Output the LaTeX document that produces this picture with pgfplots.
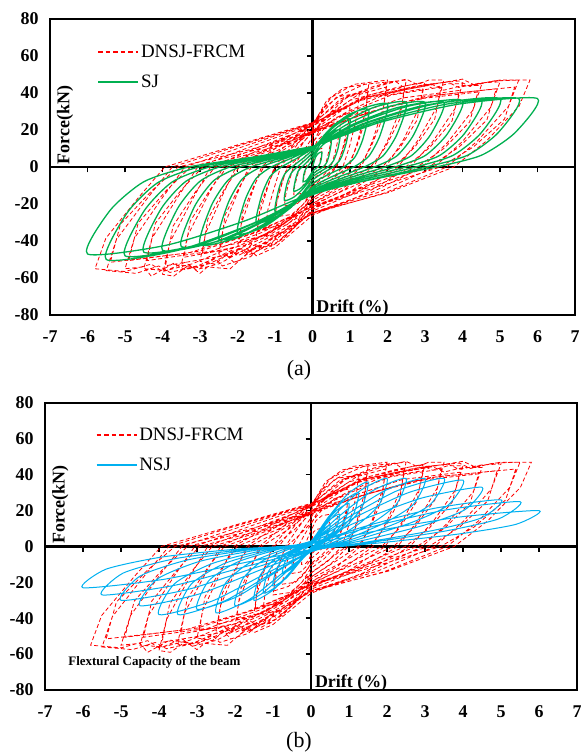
\documentclass[border=0pt]{standalone}
\usepackage{fontspec}
\setmainfont{Liberation Serif}
\usepackage{pgfplots}
\pgfplotsset{compat=1.18}
\usepackage{pgfplotstable}
\definecolor{sjgreen}{RGB}{0,176,80}
\definecolor{nsjblue}{RGB}{0,176,240}

\pgfplotstableread{
x y
0 0
0.06 8
0.14 9.5
0.25 10
0.24 7
0.2 3
0.16 0
0.09 -2.5
0 -4.5
-0.06 -7.5
-0.14 -9.5
-0.25 -10
-0.24 -7
-0.2 -3
-0.17 0
-0.09 4.5
0 9
0.13 14.4
0.28 17.1
0.5 18
0.48 12.6
0.4 5.4
0.33 0
0.18 -3.75
0 -6.75
-0.13 -11.25
-0.28 -14.25
-0.5 -15
-0.48 -10.5
-0.4 -4.5
-0.34 0
-0.18 6.25
0 12.5
0.19 20
0.41 23.75
0.75 25
0.71 17.5
0.6 7.5
0.49 0
0.26 -5.25
0 -9.45
-0.19 -15.75
-0.41 -19.95
-0.75 -21
-0.71 -14.7
-0.6 -6.3
-0.51 0
-0.26 8
0 16
0.25 25.6
0.55 30.4
1 32
0.95 22.4
0.8 9.6
0.65 0
0.35 -6.75
0 -12.15
-0.25 -20.25
-0.55 -25.65
-1 -27
-0.95 -18.9
-0.8 -8.1
-0.68 0
-0.35 10
0 20
0.31 32
0.69 38
1.25 40
1.19 28
1 12
0.81 0
0.44 -8.25
0 -14.85
-0.31 -24.75
-0.69 -31.35
-1.25 -33
-1.19 -23.1
-1 -9.9
-0.85 0
-0.44 11.25
0 22.5
0.38 36
0.83 42.75
1.5 45
1.43 31.5
1.2 13.5
0.98 0
0.53 -9.5
0 -17.1
-0.38 -28.5
-0.83 -36.1
-1.5 -38
-1.43 -26.6
-1.2 -11.4
-1.02 0
-0.53 11.75
0 23.5
0.5 37.6
1.1 44.65
2 47
1.9 32.9
1.6 14.1
1.3 0
0.7 -11
0 -19.8
-0.5 -33
-0.8 -38
-0.9 -35.5
-1.1 -41.8
-1.4 -44.5
-1.6 -41.5
-1.8 -45
-2 -44
-1.9 -30.8
-1.6 -13.2
-1.36 0
-0.7 11.75
0 23.5
0.63 37.6
1.38 44.65
2.5 47
2.38 32.9
2 14.1
1.63 0
0.88 -11.75
0 -21.15
-0.63 -35.25
-0.9 -40
-1.05 -37.5
-1.38 -44.65
-1.7 -47.5
-1.9 -44
-2.2 -48.5
-2.5 -47
-2.38 -32.9
-2 -14.1
-1.7 0
-0.88 11.5
0 23
0.75 36.8
1.65 43.7
2.2 46.5
2.4 43.5
3 46
2.85 32.2
2.4 13.8
1.95 0
1.05 -12.75
0 -22.95
-0.75 -38.25
-1.1 -43
-1.25 -40.5
-1.65 -48.45
-2.1 -51.5
-2.3 -47.5
-2.6 -52.5
-3 -51
-2.85 -35.7
-2.4 -15.3
-2.04 0
-1.05 11.75
0 23.5
0.88 37.6
1.93 44.65
2.5 47.5
2.8 44.5
3.1 47
3.5 47
3.33 32.9
2.8 14.1
2.28 0
1.23 -13.25
0 -23.85
-0.88 -39.75
-1.3 -45
-1.45 -42
-1.93 -50.35
-2.4 -53.5
-2.6 -49.5
-3 -54.5
-3.5 -53
-3.33 -37.1
-2.8 -15.9
-2.38 0
-1.23 11.25
0 22.5
1 36
2.2 42.75
2.9 45.5
3.2 42.5
3.6 45
4 45
3.8 31.5
3.2 13.5
2.6 0
1.4 -14.5
0 -26.1
-1 -43.5
-1.5 -48
-1.65 -45
-2.2 -55.1
-2.8 -54
-3 -57.5
-3.3 -53
-3.7 -59
-4 -58
-3.8 -40.6
-3.2 -17.4
-2.72 0
-1.4 11
0 22
1.13 35.2
2.48 41.8
3.2 44.5
3.5 41.5
4 44
4.5 44
4.28 30.8
3.6 13.2
2.93 0
1.58 -13.75
0 -24.75
-1.13 -41.25
-1.6 -47
-1.75 -44
-2.48 -52.25
-3.1 -55.5
-3.4 -51.5
-3.9 -56
-4.5 -55
-4.28 -38.5
-3.6 -16.5
-3.06 0
-1.58 11.5
0 23
1.25 36.8
2.75 43.7
3.6 46
3.9 43
4.5 45.5
5 46
4.75 32.2
4 13.8
3.25 0
1.75 -13.75
0 -24.75
-1.25 -41.25
-1.8 -47
-1.95 -44.5
-2.75 -52.25
-3.4 -55.5
-3.7 -52
-4.3 -59
-4.5 -54
-5 -55
-4.75 -38.5
-4 -16.5
-3.4 0
-1.75 11.75
0 23.5
1.38 37.6
3.03 44.65
3.9 46.5
4.2 43.5
4.8 46.5
5.5 47
5.23 32.9
4.4 14.1
3.58 0
1.93 -14
0 -25.2
-1.38 -42
-2 -48
-2.15 -45
-3.03 -53.2
-3.8 -57
-4.1 -53.5
-4.7 -57.5
-5.5 -56
-5.23 -39.2
-4.4 -16.8
-3.74 0
-1.93 11.75
0 23.5
1.45 37.6
3.19 44.65
4 47.5
4.3 44.5
5 47
5.8 47
5.51 32.9
4.64 14.1
3.77 0
2.03 -13.75
0 -24.75
-1.45 -41.25
-2.1 -47.5
-2.3 -44.5
-3.19 -52.25
-4 -56.5
-4.3 -52.5
-5 -56.5
-5.8 -55
-5.51 -38.5
-4.64 -16.5
-3.94 0
-2.03 11.75
0 24
0 13.2
0.3 20.6
0.6 26.5
0.98 29.4
0.93 17.6
0.78 7.4
0.62 0
0.3 -5.5
0 -10.4
-0.3 -17.4
-0.6 -22.3
-0.98 -24.8
-0.93 -14.9
-0.78 -6.2
-0.65 0
-0.3 6.5
0 13.2
0 18.6
0.45 29
0.9 37.3
1.47 41.4
1.4 24.8
1.17 10.4
0.93 0
0.45 -7.7
0 -14.7
-0.45 -24.5
-0.9 -31.5
-1.47 -35
-1.4 -21
-1.17 -8.8
-0.98 0
-0.45 9.1
0 18.6
0 19.4
0.6 30.2
1.2 38.9
1.96 43.2
1.86 25.9
1.56 10.8
1.24 0
0.6 -8.9
0 -17
-0.6 -28.4
-1.2 -36.5
-1.96 -40.5
-1.86 -24.3
-1.56 -10.1
-1.3 0
-0.6 9.5
0 19.4
0.75 30.2
1.5 38.9
2.45 43.2
2.33 25.9
1.95 10.8
1.55 0
0.75 -9.5
0 -18.1
-0.75 -30.2
-1.5 -38.9
-2.45 -43.2
-2.33 -25.9
-1.95 -10.8
-1.63 0
-0.75 9.5
0 19.4
0 19
0.9 29.6
1.8 38.1
2.94 42.3
2.79 25.4
2.34 10.6
1.86 0
0.9 -10.3
0 -19.7
-0.9 -32.8
-1.8 -42.2
-2.94 -46.9
-2.79 -28.1
-2.34 -11.7
-1.95 0
-0.9 9.3
0 19
0 19.4
1.05 30.2
2.1 38.9
3.43 43.2
3.26 25.9
2.73 10.8
2.17 0
1.05 -10.7
0 -20.5
-1.05 -34.2
-2.1 -43.9
-3.43 -48.8
-3.26 -29.3
-2.73 -12.2
-2.28 0
-1.05 9.5
0 19.4
0 18.6
1.2 29
2.4 37.3
3.92 41.4
3.72 24.8
3.12 10.4
2.48 0
1.2 -11.7
0 -22.4
-1.2 -37.4
-2.4 -48.1
-3.92 -53.4
-3.72 -32
-3.12 -13.4
-2.6 0
-1.2 9.1
0 18.6
0 18.2
1.35 28.4
2.7 36.5
4.41 40.5
4.19 24.3
3.51 10.1
2.79 0
1.35 -11.1
0 -21.3
-1.35 -35.4
-2.7 -45.5
-4.41 -50.6
-4.19 -30.4
-3.51 -12.7
-2.93 0
-1.35 8.9
0 18.2
0 19
1.5 29.6
3 38.1
4.9 42.3
4.65 25.4
3.9 10.6
3.1 0
1.5 -11.1
0 -21.3
-1.5 -35.4
-3 -45.5
-4.9 -50.6
-4.65 -30.4
-3.9 -12.7
-3.25 0
-1.5 9.3
0 19
0 19.4
1.65 30.2
3.3 38.9
5.39 43.2
5.12 25.9
4.29 10.8
3.41 0
1.65 -11.3
0 -21.6
-1.65 -36.1
-3.3 -46.4
-5.39 -51.5
-5.12 -30.9
-4.29 -12.9
-3.58 0
-1.65 9.5
0 19.4
}\redtab

\pgfplotstableread{
x y
0 0
0.08 5.2
0.16 7.4
0.25 8
0.23 4
0.19 1.4
0.14 0
0.06 -1.2
0 -2.4
-0.08 -5
-0.16 -7.2
-0.25 -8
-0.23 -4
-0.19 -1.4
-0.14 0
-0.06 2.1
0 4.2
0.15 9.1
0.33 12.9
0.5 14
0.45 7
0.38 2.4
0.28 0
0.13 -2
0 -3.9
-0.15 -8.1
-0.33 -11.7
-0.5 -13
-0.45 -6.5
-0.38 -2.2
-0.28 0
-0.13 3
0 6
0.23 13
0.49 18.4
0.75 20
0.68 10
0.56 3.4
0.41 0
0.19 -2.7
0 -5.4
-0.23 -11.2
-0.49 -16.2
-0.75 -18
-0.68 -9
-0.56 -3.1
-0.41 0
-0.19 3.9
0 7.8
0.3 16.9
0.65 23.9
1 26
0.9 13
0.75 4.4
0.55 0
0.25 -3.6
0 -7.2
-0.3 -14.9
-0.65 -21.6
-1 -24
-0.9 -12
-0.75 -4.1
-0.55 0
-0.25 4.7
0 9.3
0.45 20.2
0.98 28.5
1.5 31
1.35 15.5
1.13 5.3
0.83 0
0.38 -4.5
0 -9
-0.45 -18.6
-0.98 -27
-1.5 -30
-1.35 -15
-1.13 -5.1
-0.83 0
-0.38 5.1
0 10.2
0.6 22.1
1.3 31.3
2 34
1.8 17
1.5 5.8
1.1 0
0.5 -5.4
0 -10.8
-0.6 -22.3
-1.3 -32.4
-2 -36
-1.8 -18
-1.5 -6.1
-1.1 0
-0.5 5.3
0 10.5
0.75 22.8
1.63 32.2
2.5 35
2.25 17.5
1.88 6
1.38 0
0.63 -5.9
0 -11.7
-0.75 -24.2
-1.63 -35.1
-2.5 -39
-2.25 -19.5
-1.88 -6.6
-1.38 0
-0.63 5.3
0 10.5
0.9 22.8
1.95 32.2
3 35
2.7 17.5
2.25 6
1.65 0
0.75 -6.3
0 -12.6
-0.9 -26
-1.95 -37.8
-3 -42
-2.7 -21
-2.25 -7.1
-1.65 0
-0.75 5.3
0 10.5
1.05 22.8
2.28 32.2
3.5 35
3.15 17.5
2.63 6
1.93 0
0.88 -6.5
0 -12.9
-1.05 -26.7
-2.28 -38.7
-3.5 -43
-3.15 -21.5
-2.63 -7.3
-1.93 0
-0.88 5.4
0 10.8
1.2 23.4
2.6 33.1
4 36
3.6 18
3 6.1
2.2 0
1 -6.8
0 -13.5
-1.2 -27.9
-2.6 -40.5
-4 -45
-3.6 -22.5
-3 -7.7
-2.2 0
-1 5.4
0 10.8
1.35 23.4
2.93 33.1
4.5 36
4.05 18
3.38 6.1
2.48 0
1.13 -6.9
0 -13.8
-1.35 -28.5
-2.93 -41.4
-4.5 -46
-4.05 -23
-3.38 -7.8
-2.48 0
-1.13 5.6
0 11.1
1.5 24.1
3.25 34
5 37
4.5 18.5
3.75 6.3
2.75 0
1.25 -7.2
0 -14.4
-1.5 -29.8
-3.25 -43.2
-5 -48
-4.5 -24
-3.75 -8.2
-2.75 0
-1.25 5.6
0 11.1
1.65 24.1
3.58 34
5.5 37
4.95 18.5
4.13 6.3
3.03 0
1.38 -7.5
0 -15
-1.65 -31
-3.58 -45
-5.5 -50
-4.95 -25
-4.13 -8.5
-3.03 0
-1.38 5.6
0 11.1
1.8 24.1
3.9 34
6 37
5.4 18.5
4.5 6.3
3.3 0
1.5 -7.1
0 -14.1
-1.8 -29.1
-3.9 -42.3
-6 -47
-5.4 -23.5
-4.5 -8
-3.3 0
-1.5 5.6
0 11.1
}\greentab

\pgfplotstableread{
x y
0 0
0.08 2.7
0.16 4.9
0.25 6
0.23 3.7
0.16 2.1
0.08 0.6
0 -0.5
-0.08 -2.4
-0.16 -4.8
-0.25 -6
-0.23 -3.3
-0.16 -1.5
-0.08 -0.3
0 1
0.15 5.4
0.33 9.8
0.5 12
0.45 7.4
0.33 4.2
0.15 1.2
0 -0.8
-0.15 -4
-0.33 -8
-0.5 -10
-0.45 -5.5
-0.33 -2.5
-0.15 -0.5
0 1.4
0.23 8.1
0.49 14.8
0.75 18
0.68 11.2
0.49 6.3
0.23 1.8
0 -1.2
-0.23 -6
-0.49 -12
-0.75 -15
-0.68 -8.3
-0.49 -3.8
-0.23 -0.8
0 1.9
0.3 10.8
0.65 19.7
1 24
0.9 14.9
0.65 8.4
0.3 2.4
0 -1.8
-0.3 -8.8
-0.65 -17.6
-1 -22
-0.9 -12.1
-0.65 -5.5
-0.3 -1.1
0 2.4
0.38 13.5
0.81 24.6
1.25 30
1.13 18.6
0.81 10.5
0.38 3
0 -2.1
-0.38 -10.4
-0.81 -20.8
-1.25 -26
-1.13 -14.3
-0.81 -6.5
-0.38 -1.3
0 2.9
0.45 16.2
0.98 29.5
1.5 36
1.35 22.3
0.98 12.6
0.45 3.6
0 -2.4
-0.45 -12
-0.98 -24
-1.5 -30
-1.35 -16.5
-0.98 -7.5
-0.45 -1.5
0 3
0.6 17.1
1.3 31.2
2 38
1.8 23.6
1.3 13.3
0.6 3.8
0 -2.6
-0.6 -13.2
-1.3 -26.4
-2 -33
-1.8 -18.2
-1.3 -8.3
-0.6 -1.7
0 3
0.75 17.1
1.63 31.2
2.5 38
2.25 23.6
1.63 13.3
0.75 3.8
0 -3
-0.75 -14.8
-1.63 -29.6
-2.5 -37
-2.25 -20.4
-1.63 -9.3
-0.75 -1.9
0 3
0.9 17.1
1.95 31.2
3 38
2.7 23.6
1.95 13.3
0.9 3.8
0 -2.8
-0.9 -14
-1.95 -28
-3 -35
-2.7 -19.3
-1.95 -8.8
-0.9 -1.8
0 3
1.05 17.1
2.28 31.2
3.5 38
3.15 23.6
2.28 13.3
1.05 3.8
0 -3
-1.05 -15.2
-2.28 -30.4
-3.5 -38
-3.15 -20.9
-2.28 -9.5
-1.05 -1.9
0 3
1.2 16.7
2.6 30.3
4 37
3.6 22.9
2.6 13
1.2 3.7
0 -3
-1.2 -15.2
-2.6 -30.4
-4 -38
-3.6 -20.9
-2.6 -9.5
-1.2 -1.9
0 2.6
1.35 14.9
2.93 27.1
4.5 33
4.05 20.5
2.93 11.6
1.35 3.3
0 -2.6
-1.35 -13.2
-2.93 -26.4
-4.5 -33
-4.05 -18.2
-2.93 -8.3
-1.35 -1.7
0 2.1
1.5 11.7
3.25 21.3
5 26
4.5 16.1
3.25 9.1
1.5 2.6
0 -2.4
-1.5 -12
-3.25 -24
-5 -30
-4.5 -16.5
-3.25 -7.5
-1.5 -1.5
0 2
1.65 11.3
3.58 20.5
5.5 25
4.95 15.5
3.58 8.8
1.65 2.5
0 -2.2
-1.65 -10.8
-3.58 -21.6
-5.5 -27
-4.95 -14.9
-3.58 -6.8
-1.65 -1.4
0 1.6
1.8 9
3.9 16.4
6 20
5.4 12.4
3.9 7
1.8 2
0 -1.8
-1.8 -9.2
-3.9 -18.4
-6 -23
-5.4 -12.7
-3.9 -5.8
-1.8 -1.2
0 0.5
}\bluetab

\pgfplotsset{
  midax/.style={
    scale only axis, axis lines=middle,
    xmin=-7, xmax=7, ymin=-80, ymax=80,
    xtick={-7,-6,...,7}, ytick={-80,-60,...,80},
    xticklabels={}, yticklabels={},
    axis line style={line width=2.2bp, -},
    every inner x axis line/.append style={-},
    every inner y axis line/.append style={-},
    tick style={line width=1.5bp, black},
    major tick length=5.5bp, tick align=outside,
  },
  frameax/.style={
    scale only axis,
    xmin=-7, xmax=7, ymin=-80, ymax=80,
    xtick={-7,-6,...,7}, ytick={-80,-60,...,80},
    xticklabels={-7,-6,-5,-4,-3,-2,-1,0,1,2,3,4,5,6,7},
    yticklabels={-80,-60,-40,-20,0,20,40,60,80},
    major tick length=0pt,
    axis line style={line width=2.2bp},
    ticklabel style={font=\fontsize{18}{18}\selectfont\bfseries},
    xticklabel style={yshift=-12bp},
    yticklabel style={xshift=-8bp},
    legend style={draw=none, fill=none, anchor=north west,
      font=\fontsize{19}{19}\selectfont, inner sep=0pt,
      row sep=12bp, cells={anchor=west}},
  },
  reddash/.style={draw=red, line width=0.8bp, dash pattern=on 4bp off 2.5bp},
}

\begin{document}
\begin{tikzpicture}
\useasboundingbox (0bp,0bp) rectangle (581bp,756bp);
% ---------- (a) ----------
\begin{axis}[midax, at={(50bp,441bp)}, anchor=south west, width=525bp, height=296bp]
\end{axis}
\begin{axis}[frameax, at={(50bp,441bp)}, anchor=south west, width=525bp, height=296bp,
  legend style={at={(0.09,0.92)}}]
\addplot[reddash, legend image code/.code={\draw[draw=red, line width=1.6bp, dash pattern=on 4.5bp off 3bp] (0bp,0bp) -- (40bp,0bp);}] table {\redtab};
\addlegendentry{DNSJ-FRCM}
\addplot[draw=sjgreen, line width=1.3bp, smooth, tension=0.4, legend image code/.code={\draw[draw=sjgreen, line width=1.6bp] (0bp,0bp) -- (40bp,0bp);}] table {\greentab};
\addlegendentry{SJ}
\node[rotate=90, anchor=west, inner sep=0pt, font=\fontsize{18}{18}\selectfont\bfseries] at (axis cs:-6.6,1.5) {Force(kN)};
\node[anchor=base west, inner sep=0pt, font=\fontsize{18}{18}\selectfont\bfseries] at (axis cs:0.1,-78.5) {Drift (\%)};
\end{axis}
\node[font=\fontsize{22}{22}\selectfont] at (299bp,386bp) {(a)};
% ---------- (b) ----------
\begin{axis}[midax, at={(45bp,66bp)}, anchor=south west, width=532bp, height=287bp]
\end{axis}
\begin{axis}[frameax, at={(45bp,66bp)}, anchor=south west, width=532bp, height=287bp,
  legend style={at={(0.095,0.92)}}]
\addplot[reddash, legend image code/.code={\draw[draw=red, line width=1.6bp, dash pattern=on 4.5bp off 3bp] (0bp,0bp) -- (40bp,0bp);}] table {\redtab};
\addlegendentry{DNSJ-FRCM}
\addplot[draw=nsjblue, line width=1bp, smooth, tension=0.4, legend image code/.code={\draw[draw=nsjblue, line width=1.6bp] (0bp,0bp) -- (40bp,0bp);}] table {\bluetab};
\addlegendentry{NSJ}
\node[rotate=90, anchor=west, inner sep=0pt, font=\fontsize{18}{18}\selectfont\bfseries] at (axis cs:-6.6,1.5) {Force(kN)};
\node[anchor=base west, inner sep=0pt, font=\fontsize{18}{18}\selectfont\bfseries] at (axis cs:0.1,-78.5) {Drift (\%)};
\node[anchor=west, inner sep=0pt, font=\fontsize{13}{13}\selectfont\bfseries] at (axis cs:-6.39,-64.4) {Flextural Capacity of the beam};
\end{axis}
\node[font=\fontsize{22}{22}\selectfont] at (299bp,14bp) {(b)};
\end{tikzpicture}
\end{document}
